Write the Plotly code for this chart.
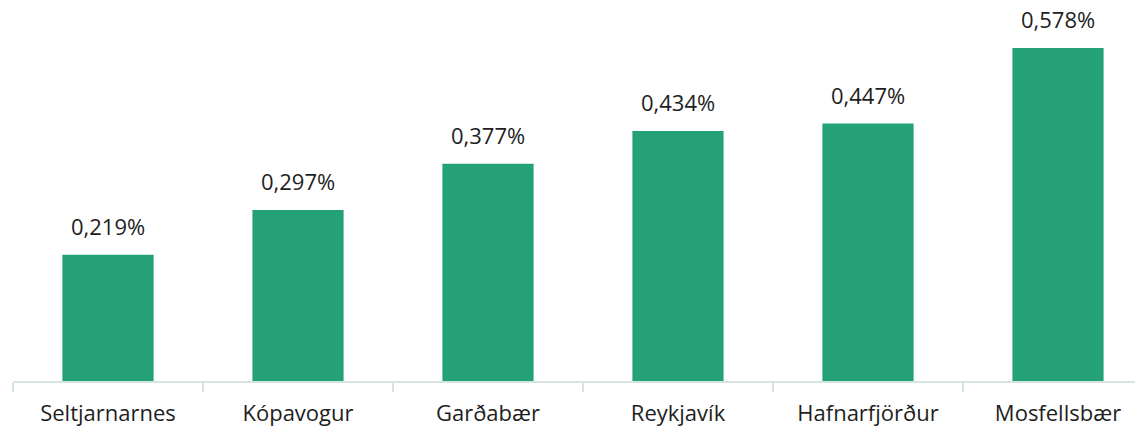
import plotly.graph_objects as go

municipalities = ["Seltjarnarnes", "Kópavogur", "Garðabær", "Reykjavík", "Hafnarfjörður", "Mosfellsbær"]
rates = [0.219, 0.297, 0.377, 0.434, 0.447, 0.578]

labels = [f"{v:.3f}".replace(".", ",") + "%" for v in rates]

BAR_GREEN = "#25A178"
TEXT = "#1E1E1E"
FONT = "Open Sans"

fig = go.Figure()
fig.add_trace(go.Bar(
    x=municipalities,
    y=rates,
    marker=dict(color=BAR_GREEN, line=dict(width=0)),
    width=0.48,
    hoverinfo="skip",
))

for name, v, lab in zip(municipalities, rates, labels):
    fig.add_annotation(
        x=name, y=v, text=lab, showarrow=False,
        yanchor="middle", yshift=29,
        font=dict(family=FONT, size=22, color=TEXT),
    )

W, H = 1135, 428
left, bottom = 13, 47
plot_w = W - left
cat_px = 190.0

fig.update_layout(
    width=W, height=H,
    margin=dict(l=left, r=0, t=0, b=bottom),
    paper_bgcolor="white", plot_bgcolor="white",
    showlegend=False,
    font=dict(family=FONT, size=22, color=TEXT),
    xaxis=dict(
        range=[-0.5, -0.5 + plot_w / cat_px],
        showline=True, linecolor="#D6E5DC", linewidth=2,
        ticks="outside", tickson="boundaries", ticklen=9,
        tickcolor="#D6E5DC", tickwidth=2,
        showgrid=False, zeroline=False,
        tickfont=dict(family=FONT, size=22, color=TEXT),
        ticklabelstandoff=12,
        automargin=False,
        fixedrange=True,
    ),
    yaxis=dict(
        range=[0, 0.6615],
        visible=False, showgrid=False, zeroline=False,
        automargin=False,
        fixedrange=True,
    ),
)

fig.write_html("out.html")
